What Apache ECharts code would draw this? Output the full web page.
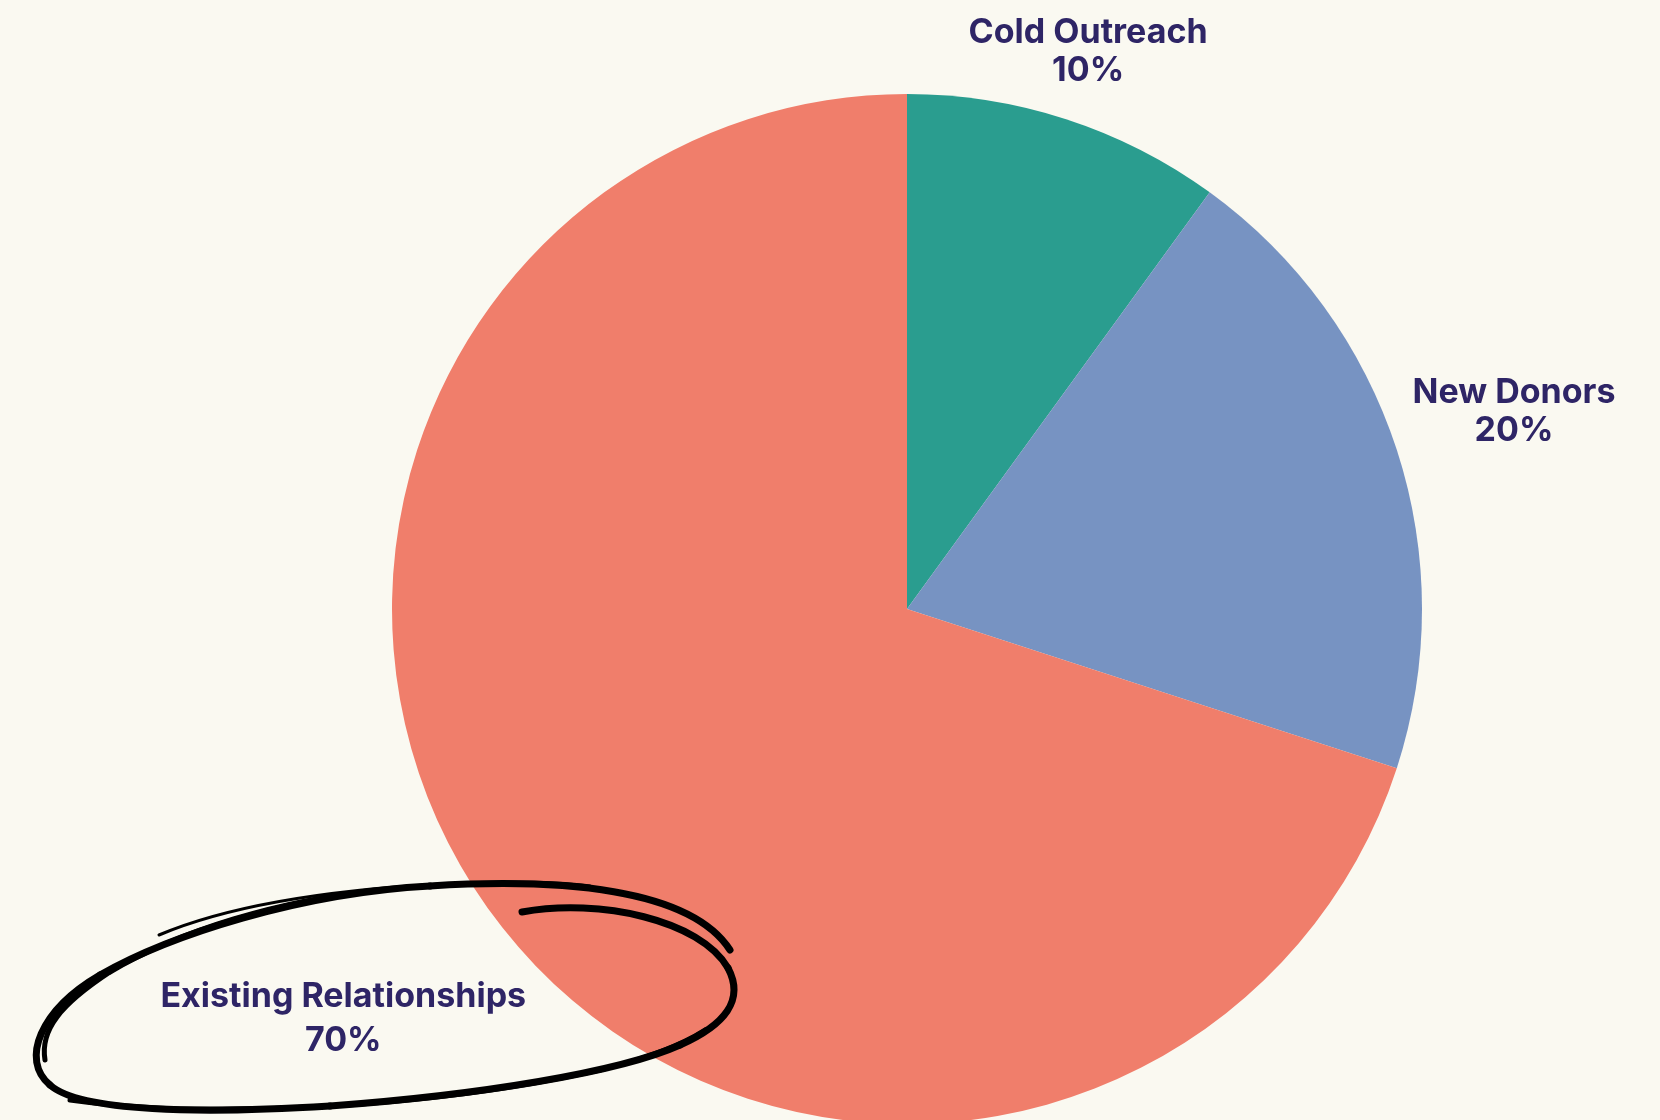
<!DOCTYPE html>
<html>
<head>
<meta charset="utf-8">
<style>
html,body{margin:0;padding:0;background:#FAF9F1;}
#chart{width:1660px;height:1120px;}
</style>
<script src="https://cdn.jsdelivr.net/npm/echarts@6/dist/echarts.min.js"></script>
</head>
<body>
<div id="chart"></div>
<script>
// ---- data ----
var categories = ['Cold Outreach', 'New Donors', 'Existing Relationships'];
var shares = [10, 20, 70];
var sliceColors = ['#2A9D8F', '#7793C2', '#F07E6B'];

// ---- layout / style ----
var CX = 907, CY = 609, R = 515;
var labelGaps = [-2, 15, 8];
var textColor = '#2E2566';

var total = shares.reduce(function (a, b) { return a + b; }, 0);
var midAngles = [];
(function () {
  var acc = 0;
  for (var i = 0; i < shares.length; i++) {
    midAngles.push((acc + shares[i] / 2) / total * 2 * Math.PI);
    acc += shares[i];
  }
})();

// hand-drawn annotation strokes (start point followed by cubic segments [c1x,c1y,c2x,c2y,x,y])
var scribbles = [
  { w: 7, start: [522, 912], segs: [
    [600, 898, 700, 920, 728, 968],
    [745, 1000, 725, 1025, 680, 1045],
    [620, 1072, 480, 1095, 330, 1106],
    [200, 1114, 80, 1112, 50, 1085],
    [20, 1060, 40, 1010, 100, 975],
    [170, 935, 300, 893, 430, 886],
    [560, 878, 690, 888, 730, 950]
  ]},
  { w: 3, start: [159, 935], segs: [
    [230, 905, 330, 890, 440, 884],
    [520, 880, 560, 882, 590, 886]
  ]},
  { w: 5, start: [70, 1100], segs: [
    [200, 1118, 420, 1110, 600, 1070],
    [640, 1060, 680, 1046, 705, 1030]
  ]},
  { w: 5, start: [45, 1060], segs: [
    [40, 1030, 60, 1005, 110, 972],
    [180, 930, 280, 900, 380, 890]
  ]}
];
var graphics = [];
scribbles.forEach(function (s) {
  var px = s.start[0], py = s.start[1];
  s.segs.forEach(function (g) {
    graphics.push({
      type: 'bezierCurve',
      silent: true,
      z: 100,
      shape: { x1: px, y1: py, cpx1: g[0], cpy1: g[1], cpx2: g[2], cpy2: g[3], x2: g[4], y2: g[5] },
      style: { fill: null, stroke: '#000', lineWidth: s.w, lineCap: 'round' }
    });
    px = g[4]; py = g[5];
  });
});

var chart = echarts.init(document.getElementById('chart'), null, { renderer: 'canvas' });

var data = categories.map(function (c, i) {
  var item = { name: c, value: shares[i], itemStyle: { color: sliceColors[i] } };
  if (i === 2) item.label = { lineHeight: 44 };
  return item;
});

var option = {
  backgroundColor: '#FAF9F1',
  animation: false,
  series: [{
    type: 'pie',
    center: [CX, CY],
    radius: [0, R],
    startAngle: 90,
    clockwise: true,
    avoidLabelOverlap: false,
    data: data,
    itemStyle: { borderWidth: 0 },
    label: {
      show: true,
      position: 'outside',
      formatter: '{b}\n{d}%',
      fontFamily: 'Inter, "Noto Sans", sans-serif',
      fontWeight: 'bold',
      fontSize: 34,
      lineHeight: 38,
      color: textColor,
      align: 'center'
    },
    labelLine: { show: false },
    emphasis: { disabled: true },
    labelLayout: function (p) {
      var i = p.dataIndex;
      var a = midAngles[i];
      var s = Math.sin(a), c = Math.cos(a);
      var hw = p.labelRect.width / 2, hh = p.labelRect.height / 2;
      var d = R + labelGaps[i] + Math.abs(hw * s) + Math.abs(hh * c);
      return {
        x: CX + d * s,
        y: CY - d * c,
        align: 'center',
        verticalAlign: 'middle'
      };
    }
  }],
  graphic: graphics
};

chart.setOption(option);
</script>
</body>
</html>
